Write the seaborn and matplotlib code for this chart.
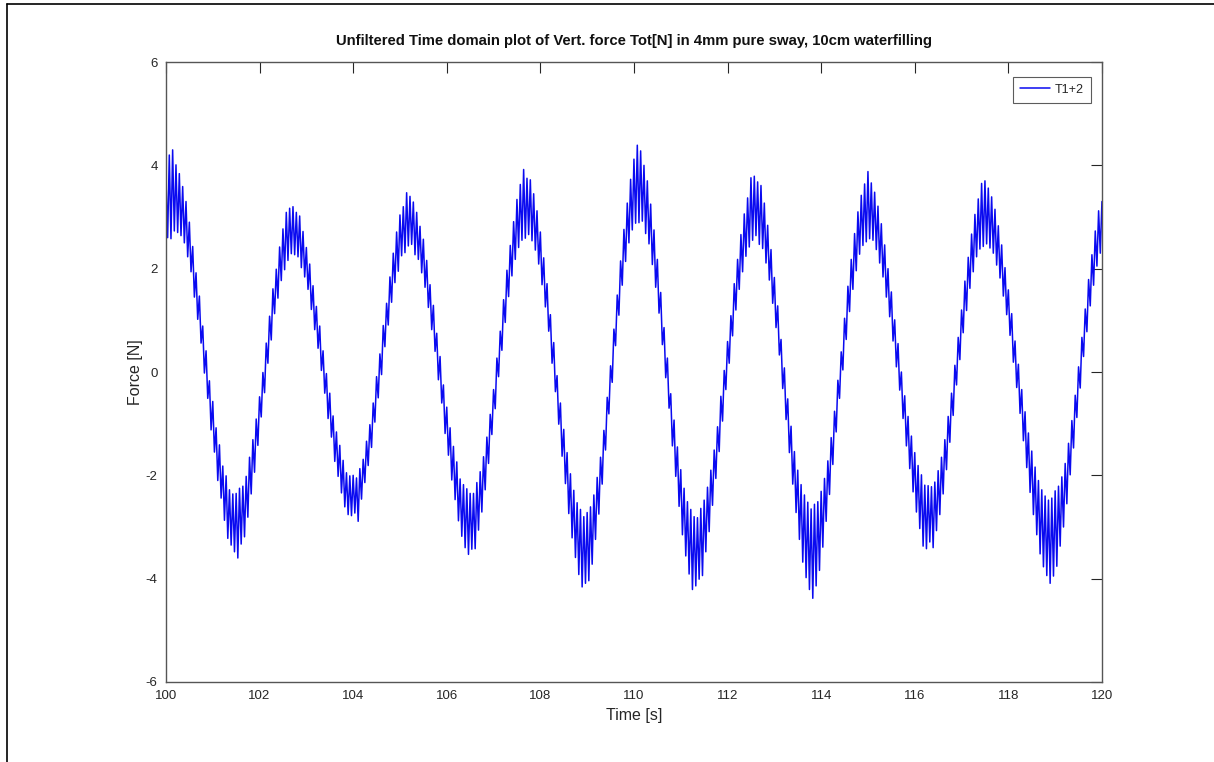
import numpy as np
import pandas as pd
import seaborn as sns
import matplotlib
import matplotlib.pyplot as plt
from matplotlib.lines import Line2D

matplotlib.use("Agg")

# ── Data (spike tops / bottoms alternating) ──────────────────────────────
T_START, T_END = 100, 120
seg_100_102 = [3.75, 2.6, 4.2, 2.58, 4.3, 2.73, 4.01, 2.7, 3.84, 2.64, 3.59, 2.5, 3.3, 2.23, 2.9, 1.94,
               2.43, 1.45, 1.92, 1.02, 1.47, 0.56, 0.89, -0.02, 0.41, -0.51, -0.17, -1.12, -0.57, -1.55,
               -1.08, -2.1, -1.41, -2.44, -1.82, -2.87, -2.01, -3.22, -2.28, -3.35, -2.36, -3.48, -2.35,
               -3.6, -2.25, -3.33, -2.21, -3.19, -2.02, -2.81, -1.65, -2.36, -1.31, -1.94, -0.91, -1.42]
seg_102_104 = [-0.48, -0.87, -0.01, -0.4, 0.56, 0.17, 1.08, 0.62, 1.61, 1.13, 1.99, 1.43, 2.42, 1.77,
               2.77, 1.98, 3.09, 2.16, 3.17, 2.29, 3.2, 2.27, 3.09, 2.23, 3.02, 2.02, 2.72, 1.84, 2.41,
               1.6, 2.09, 1.21, 1.67, 0.82, 1.27, 0.46, 0.89, 0.03, 0.41, -0.41, -0.03, -0.9, -0.41,
               -1.26, -0.85, -1.73, -1.16, -2.02, -1.42, -2.34, -1.71, -2.61, -1.95, -2.76, -2.01, -2.78]
seg_104_106 = [-2.0, -2.73, -2.05, -2.89, -1.87, -2.46, -1.69, -2.14, -1.34, -1.81, -1.02, -1.46, -0.6,
               -0.97, -0.09, -0.5, 0.35, -0.05, 0.9, 0.49, 1.33, 0.91, 1.84, 1.35, 2.3, 1.73, 2.71, 1.95,
               3.04, 2.25, 3.2, 2.31, 3.47, 2.44, 3.4, 2.47, 3.29, 2.27, 3.09, 2.18, 2.82, 1.92, 2.57,
               1.64, 2.16, 1.25, 1.69, 0.82, 1.29, 0.4, 0.75, -0.15, 0.3, -0.6, -0.25, -1.19]
seg_106_108 = [-0.68, -1.61, -1.08, -2.09, -1.44, -2.47, -1.74, -2.88, -2.07, -3.18, -2.18, -3.4, -2.26,
               -3.53, -2.35, -3.43, -2.35, -3.42, -2.14, -3.06, -1.93, -2.71, -1.64, -2.28, -1.26, -1.77,
               -0.82, -1.21, -0.34, -0.71, 0.27, -0.09, 0.79, 0.42, 1.4, 0.96, 1.97, 1.46, 2.45, 1.86,
               2.91, 2.18, 3.34, 2.41, 3.63, 2.55, 3.92, 2.59, 3.75, 2.66, 3.72, 2.54, 3.45, 2.36, 3.12, 2.09]
seg_108_110 = [2.71, 1.69, 2.21, 1.26, 1.71, 0.79, 1.11, 0.17, 0.57, -0.38, -0.07, -1.01, -0.6, -1.63,
               -1.11, -2.16, -1.56, -2.74, -1.97, -3.21, -2.29, -3.59, -2.53, -3.92, -2.66, -4.16, -2.8,
               -4.09, -2.72, -4.04, -2.61, -3.72, -2.38, -3.24, -2.04, -2.75, -1.65, -2.17, -1.13, -1.51,
               -0.49, -0.81, 0.12, -0.2, 0.83, 0.51, 1.49, 1.1, 2.15, 1.68, 2.76, 2.14, 3.27, 2.5, 3.73, 2.75]
seg_110_112 = [4.12, 2.88, 4.39, 2.89, 4.28, 2.92, 4.0, 2.68, 3.7, 2.48, 3.25, 2.08, 2.75, 1.64, 2.18,
               1.14, 1.54, 0.53, 0.86, -0.11, 0.27, -0.7, -0.42, -1.43, -0.93, -2.02, -1.45, -2.6, -1.89,
               -3.15, -2.25, -3.56, -2.51, -3.91, -2.66, -4.21, -2.8, -4.14, -2.82, -4.01, -2.64, -3.94,
               -2.48, -3.48, -2.23, -3.09, -1.9, -2.58, -1.51, -2.06, -1.06, -1.54, -0.47, -0.95, 0.03, -0.34]
seg_112_114 = [0.59, 0.17, 1.09, 0.7, 1.71, 1.2, 2.18, 1.6, 2.66, 1.94, 3.06, 2.24, 3.37, 2.42, 3.76,
               2.55, 3.79, 2.64, 3.68, 2.47, 3.61, 2.39, 3.27, 2.11, 2.84, 1.78, 2.37, 1.33, 1.83, 0.86,
               1.28, 0.33, 0.63, -0.32, 0.08, -0.92, -0.52, -1.56, -1.05, -2.17, -1.54, -2.72, -1.9, -3.24,
               -2.18, -3.68, -2.38, -3.98, -2.52, -4.21, -2.65, -4.38, -2.56, -4.14, -2.51, -3.84]
seg_114_116 = [-2.31, -3.39, -2.06, -2.89, -1.72, -2.37, -1.27, -1.79, -0.76, -1.16, -0.16, -0.51, 0.39,
               0.04, 1.04, 0.63, 1.66, 1.17, 2.18, 1.6, 2.68, 1.96, 3.1, 2.28, 3.42, 2.45, 3.64, 2.52,
               3.88, 2.58, 3.66, 2.55, 3.48, 2.37, 3.21, 2.11, 2.87, 1.84, 2.46, 1.45, 2.0, 1.07, 1.55,
               0.6, 1.01, 0.1, 0.55, -0.35, 0.0, -0.9, -0.46, -1.43, -0.86, -1.87, -1.24, -2.32]
seg_116_118 = [-1.56, -2.71, -1.81, -3.03, -1.99, -3.37, -2.19, -3.42, -2.2, -3.29, -2.22, -3.4, -2.13,
               -3.07, -1.91, -2.76, -1.65, -2.36, -1.31, -1.89, -0.86, -1.36, -0.41, -0.84, 0.13, -0.25,
               0.67, 0.24, 1.2, 0.76, 1.76, 1.19, 2.22, 1.62, 2.67, 1.94, 3.05, 2.23, 3.35, 2.38, 3.65,
               2.43, 3.7, 2.48, 3.56, 2.4, 3.39, 2.3, 3.15, 2.07, 2.83, 1.82, 2.46, 1.47, 2.02, 1.11]
seg_118_120 = [1.59, 0.71, 1.13, 0.19, 0.6, -0.3, 0.15, -0.8, -0.34, -1.33, -0.77, -1.85, -1.18, -2.33,
               -1.53, -2.76, -1.84, -3.15, -2.1, -3.52, -2.28, -3.77, -2.4, -3.94, -2.48, -4.09, -2.44,
               -3.95, -2.3, -3.76, -2.21, -3.37, -2.03, -3.0, -1.77, -2.55, -1.38, -1.99, -0.94, -1.47,
               -0.45, -0.88, 0.1, -0.31, 0.67, 0.3, 1.22, 0.78, 1.79, 1.28, 2.27, 1.68, 2.73, 2.05, 3.12,
               2.3, 3.3]

X_TICKS = [100, 102, 104, 106, 108, 110, 112, 114, 116, 118, 120]
Y_TICKS = [-6, -4, -2, 0, 2, 4, 6]

force = np.concatenate([seg_100_102, seg_102_104, seg_104_106, seg_106_108, seg_108_110,
                        seg_110_112, seg_112_114, seg_114_116, seg_116_118, seg_118_120])
time = np.linspace(T_START, T_END, len(force))
df = pd.DataFrame({"Time": time, "Force": force})

# ── Figure ───────────────────────────────────────────────────────────────
sns.set_style("white")
plt.rcParams["font.family"] = ["Liberation Sans", "DejaVu Sans"]
plt.rcParams["axes.unicode_minus"] = False

fig = plt.figure(figsize=(12.14, 7.62), dpi=100)
ax = fig.add_axes([0.1367, 0.105, 0.771, 0.8136])

sns.lineplot(data=df, x="Time", y="Force", ax=ax, color="#0a0af0", linewidth=1.1,
             label="T1+2", estimator=None, sort=False)

ax.set_xlim(T_START, T_END)
ax.set_ylim(-6, 6)
ax.set_xticks(X_TICKS)
ax.set_yticks(Y_TICKS)
ax.tick_params(direction="in", length=8, width=0.8, top=True, right=True,
               labelsize=9.5, colors="#262626", pad=6)
for s in ax.spines.values():
    s.set_visible(True)
    s.set_color("#555555")
    s.set_linewidth(1.0)

ax.set_title("Unfiltered Time domain plot of Vert. force Tot[N] in 4mm pure sway, 10cm waterfilling",
             fontsize=10.7, fontweight="bold", pad=12, color="#111111")
ax.set_xlabel("Time [s]", fontsize=11.5, color="#262626", labelpad=4)
ax.set_ylabel("Force [N]", fontsize=11.5, color="#262626")
ax.yaxis.set_label_coords(-0.025, 0.5)

leg = ax.legend(loc="upper right", bbox_to_anchor=(0.988, 0.976), fontsize=9, frameon=True,
                fancybox=False, handlelength=2.4, handletextpad=0.4, borderpad=0.55,
                borderaxespad=0.0)
leg.get_frame().set_edgecolor("#333333")
leg.get_frame().set_linewidth(0.8)

# thin frame on the top and left edges of the image
fig.add_artist(Line2D([0.006, 1.0], [0.995, 0.995], transform=fig.transFigure, color="black", lw=1.2))
fig.add_artist(Line2D([0.006, 0.006], [0.0, 0.995], transform=fig.transFigure, color="black", lw=1.2))

fig.savefig("out.png", dpi=100)
